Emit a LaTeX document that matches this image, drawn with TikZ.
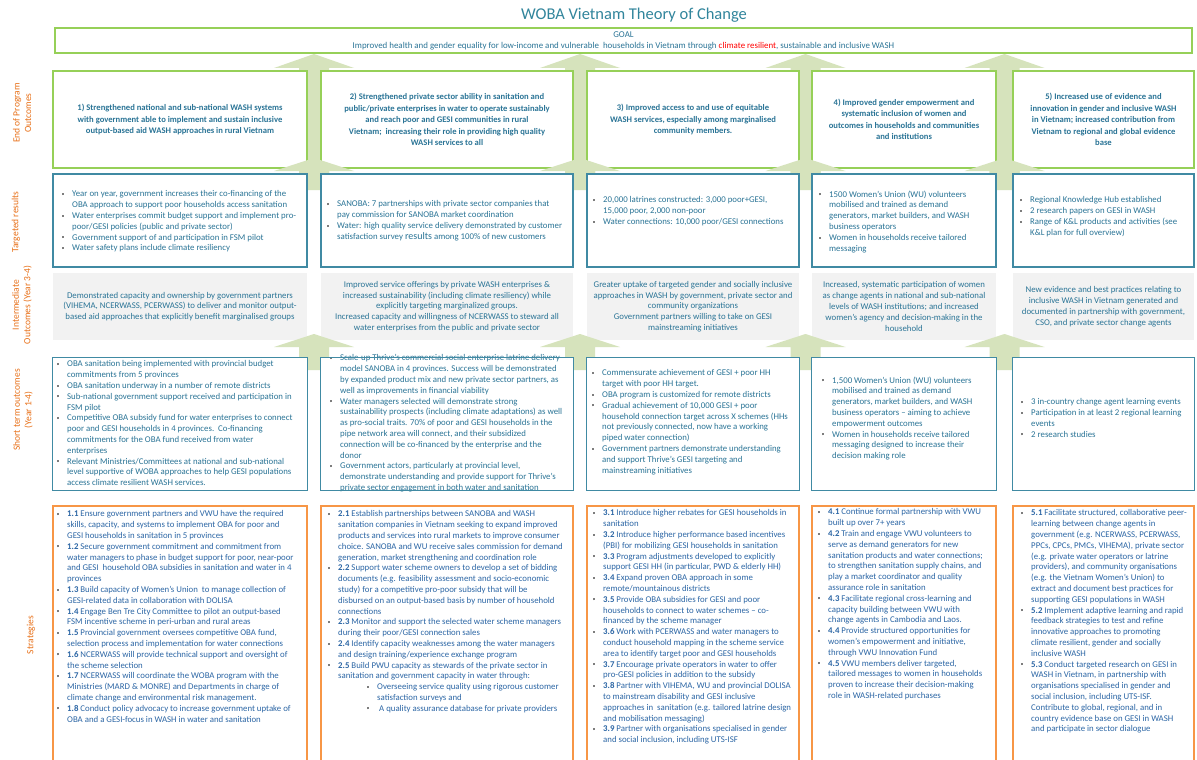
\documentclass[tikz,border=0pt]{standalone}
\usepackage{fontspec}
\setmainfont{Carlito}
\definecolor{tealline}{RGB}{64,138,163}
\definecolor{greenline}{RGB}{150,208,88}
\definecolor{orangeline}{RGB}{247,150,70}
\definecolor{arrowgreen}{RGB}{214,227,188}
\definecolor{greybox}{RGB}{242,242,242}
\definecolor{bodytext}{RGB}{42,116,150}
\definecolor{stratext}{RGB}{44,102,165}
\definecolor{labelorange}{RGB}{232,112,24}
\definecolor{titleteal}{RGB}{49,133,156}
\definecolor{bulletgrey}{RGB}{125,125,125}
% hanging bullet and continuation indent for the lists
\newcommand{\bu}{\makebox[10pt][l]{\raisebox{1.8pt}{\textcolor{bulletgrey}{\rule{2pt}{2pt}}}}}
\newcommand{\ct}{\hspace*{10pt}}
% broad up-arrow: centre x, tip y, head base y, tail y
\newcommand{\upblock}[4]{\fill[arrowgreen] ({#1-15},#4) -- ({#1-15},#3) -- ({#1-40},#3) -- (#1,#2) -- ({#1+40},#3) -- ({#1+15},#3) -- ({#1+15},#4) -- cycle;}
\begin{document}
\begin{tikzpicture}[x=1pt,y=-1pt,
  titlestyle/.style={text=titleteal, font=\fontsize{16.5}{19}\selectfont, inner sep=0},
  goalbox/.style={draw=greenline, line width=1.5pt, fill=white, align=center, text=bodytext, font=\fontsize{8.9}{11}\selectfont, inner sep=0},
  eop/.style={draw=greenline, line width=1.3pt, fill=white, align=center, text=bodytext, font=\bfseries\fontsize{8.6}{11.5}\selectfont, inner sep=0},
  resbox/.style={draw=tealline, line width=1.3pt, fill=white, inner sep=0},
  stfill/.style={fill=white, inner sep=0},
  stborder/.style={draw=tealline, line width=1.3pt},
  interbox/.style={fill=greybox, align=center, text=bodytext, font=\fontsize{8.8}{10.8}\selectfont, inner sep=0},
  stratbox/.style={draw=orangeline, line width=1.3pt, fill=white, inner sep=0},
  bullets/.style={anchor=north west, align=left, inner sep=0, text=bodytext, font=\fontsize{8.8}{10.8}\selectfont},
  stratlist/.style={bullets, text=stratext},
  rowlabel/.style={rotate=90, align=center, text=labelorange, font=\fontsize{9.5}{11.5}\selectfont, inner sep=0}
]
\useasboundingbox (0,0) rectangle (1197,760);
\fill[white] (0,0) rectangle (1197,760);

\node[titlestyle] (title) at (634,15) {WOBA Vietnam Theory of Change};

% arrows from the end-of-program outcomes to the goal
\upblock{314}{54}{68}{175}
\upblock{580}{54}{68}{175}
\upblock{805.5}{54}{68}{175}
\upblock{1004.5}{54}{68}{175}

\node[goalbox, minimum width=1137, minimum height=25] (goal) at (623.5,40.5)
  {GOAL\\Improved health and gender equality for low-income and vulnerable\ \ households in Vietnam through \textcolor{red}{climate resilient}, sustainable and inclusive WASH};

% end of program outcomes
\node[eop, minimum width=254, minimum height=97] (e1) at (180,119.5)
  {1) Strengthened national and sub-national WASH systems\\with government able to implement and sustain inclusive\\output-based aid WASH approaches in rural Vietnam};
\node[eop, minimum width=252, minimum height=97] (e2) at (447,119.5)
  {2) Strengthened private sector ability in sanitation and\\public/private enterprises in water to operate sustainably\\and reach poor and GESI communities in rural\\Vietnam;\ \ increasing their role in providing high quality\\WASH services to all};
\node[eop, minimum width=212, minimum height=97] (e3) at (693,119.5)
  {3) Improved access to and use of equitable\\WASH services, especially among marginalised\\community members.};
\node[eop, minimum width=184, minimum height=97] (e4) at (904,119.5)
  {4) Improved gender empowerment and\\systematic inclusion of women and\\outcomes in households and communities\\and institutions};
\node[eop, minimum width=181, minimum height=97] (e5) at (1103.5,119.5)
  {5) Increased use of evidence and\\innovation in gender and inclusive WASH\\in Vietnam; increased contribution from\\Vietnam to regional and global evidence\\base};

% arrows from the targeted results
\upblock{314}{158}{171}{190}
\upblock{580}{158}{171}{190}
\upblock{805.5}{158}{171}{190}
\upblock{1004.5}{158}{171}{190}

% targeted results
\node[resbox, minimum width=254, minimum height=93] (r1) at (180,220.5) {};
\node[resbox, minimum width=252, minimum height=93] (r2) at (447,220.5) {};
\node[resbox, minimum width=212, minimum height=93] (r3) at (693,220.5) {};
\node[resbox, minimum width=184, minimum height=93] (r4) at (904,220.5) {};
\node[resbox, minimum width=181, minimum height=93] (r5) at (1103.5,220.5) {};
\node[bullets] (r1t) at (62,190.5) {%
\bu Year on year, government increases their co-financing of the\\
\ct OBA approach to support poor households access sanitation\\
\bu Water enterprises commit budget support and implement pro-\\
\ct poor/GESI policies (public and private sector)\\
\bu Government support of and participation in FSM pilot\\
\bu Water safety plans include climate resiliency};
\node[bullets] (r2t) at (327,200.5) {%
\bu SANOBA: 7 partnerships with private sector companies that\\
\ct pay commission for SANOBA market coordination\\
\bu Water: high quality service delivery demonstrated by customer\\
\ct satisfaction survey {\fontsize{10}{10.8}\selectfont results} among 100\% of new customers};
\node[bullets] (r3t) at (593,196.5) {%
\bu 20,000 latrines constructed: 3,000 poor+GESI,\\
\ct 15,000 poor, 2,000 non-poor\\
\bu Water connections: 10,000 poor/GESI connections};
\node[bullets] (r4t) at (819,190.5) {%
\bu 1500 Women’s Union (WU) volunteers\\
\ct mobilised and trained as demand\\
\ct generators, market builders, and WASH\\
\ct business operators\\
\bu Women in households receive tailored\\
\ct messaging};
\node[bullets] (r5t) at (1020,196.5) {%
\bu Regional Knowledge Hub established\\
\bu 2 research papers on GESI in WASH\\
\bu Range of K\&L products and activities (see\\
\ct K\&L plan for full overview)};

% intermediate outcomes
\node[interbox, minimum width=254, minimum height=67] (i1) at (180,306.5)
  {Demonstrated capacity and ownership by government partners\\(VIHEMA, NCERWASS, PCERWASS) to deliver and monitor output-\\based aid approaches that explicitly benefit marginalised groups};
\node[interbox, minimum width=252, minimum height=67] (i2) at (447,306.5)
  {Improved service offerings by private WASH enterprises \&\\increased sustainability (including climate resiliency) while\\explicitly targeting marginalized groups.\\Increased capacity and willingness of NCERWASS to steward all\\water enterprises from the public and private sector};
\node[interbox, minimum width=212, minimum height=67] (i3) at (693,306.5)
  {Greater uptake of targeted gender and socially inclusive\\approaches in WASH by government, private sector and\\community organizations\\Government partners willing to take on GESI\\mainstreaming initiatives};
\node[interbox, minimum width=184, minimum height=67] (i4) at (904,306.5)
  {Increased, systematic participation of women\\as change agents in national and sub-national\\levels of WASH institutions; and increased\\women’s agency and decision-making in the\\household};
\node[interbox, minimum width=181, minimum height=67] (i5) at (1103.5,306.5)
  {New evidence and best practices relating to\\inclusive WASH in Vietnam generated and\\documented in partnership with government,\\CSO, and private sector change agents};

% arrows from the short term outcomes
\upblock{314}{334}{347}{370}
\upblock{580}{334}{347}{370}
\upblock{805.5}{334}{347}{370}
\upblock{1004.5}{334}{347}{370}

% short term outcomes
\node[stfill, minimum width=254, minimum height=132] (s1) at (180,424) {};
\node[stfill, minimum width=252, minimum height=132] (s2) at (447,424) {};
\node[stfill, minimum width=212, minimum height=132] (s3) at (693,424) {};
\node[stfill, minimum width=184, minimum height=132] (s4) at (904,424) {};
\node[stfill, minimum width=181, minimum height=132] (s5) at (1103.5,424) {};
\node[bullets] (s1t) at (57,360.5) {%
\bu OBA sanitation being implemented with provincial budget\\
\ct commitments from 5 provinces\\
\bu OBA sanitation underway in a number of remote districts\\
\bu Sub-national government support received and participation in\\
\ct FSM pilot\\
\bu Competitive OBA subsidy fund for water enterprises to connect\\
\ct poor and GESI households in 4 provinces.\ \ Co-financing\\
\ct commitments for the OBA fund received from water\\
\ct enterprises\\
\bu Relevant Ministries/Committees at national and sub-national\\
\ct level supportive of WOBA approaches to help GESI populations\\
\ct access climate resilient WASH services.};
\node[bullets] (s2t) at (330,354.5) {%
\bu Scale-up Thrive’s commercial social enterprise latrine delivery\\
\ct model SANOBA in 4 provinces. Success will be demonstrated\\
\ct by expanded product mix and new private sector partners, as\\
\ct well as improvements in financial viability\\
\bu Water managers selected will demonstrate strong\\
\ct sustainability prospects (including climate adaptations) as well\\
\ct as pro-social traits. 70\% of poor and GESI households in the\\
\ct pipe network area will connect, and their subsidized\\
\ct connection will be co-financed by the enterprise and the\\
\ct donor\\
\bu Government actors, particularly at provincial level,\\
\ct demonstrate understanding and provide support for Thrive’s\\
\ct private sector engagement in both water and sanitation};
\node[bullets] (s3t) at (592,369.5) {%
\bu Commensurate achievement of GESI + poor HH\\
\ct target with poor HH target.\\
\bu OBA program is customized for remote districts\\
\bu Gradual achievement of 10,000 GESI + poor\\
\ct household connection target across X schemes (HHs\\
\ct not previously connected, now have a working\\
\ct piped water connection)\\
\bu Government partners demonstrate understanding\\
\ct and support Thrive’s GESI targeting and\\
\ct mainstreaming initiatives};
\node[bullets] (s4t) at (822,376.5) {%
\bu 1,500 Women’s Union (WU) volunteers\\
\ct mobilised and trained as demand\\
\ct generators, market builders, and WASH\\
\ct business operators – aiming to achieve\\
\ct empowerment outcomes\\
\bu Women in households receive tailored\\
\ct messaging designed to increase their\\
\ct decision making role};
\node[bullets] (s5t) at (1021,398.5) {%
\bu 3 in-country change agent learning events\\
\bu Participation in at least 2 regional learning\\
\ct events\\
\bu 2 research studies};
\foreach \b in {s1,s2,s3,s4,s5}
  \draw[stborder] (\b.north west) rectangle (\b.south east);

% strategies
\node[stratbox, minimum width=254, minimum height=264] (g1) at (180,638) {};
\node[stratbox, minimum width=252, minimum height=264] (g2) at (447,638) {};
\node[stratbox, minimum width=212, minimum height=264] (g3) at (693,638) {};
\node[stratbox, minimum width=184, minimum height=264] (g4) at (904,638) {};
\node[stratbox, minimum width=181, minimum height=264] (g5) at (1103.5,638) {};
\node[stratlist] (g1t) at (57,510.5) {%
\bu \textbf{1.1} Ensure government partners and VWU have the required\\
\ct skills, capacity, and systems to implement OBA for poor and\\
\ct GESI households in sanitation in 5 provinces\\
\bu \textbf{1.2} Secure government commitment and commitment from\\
\ct water managers to phase in budget support for poor, near-poor\\
\ct and GESI\ \ household OBA subsidies in sanitation and water in 4\\
\ct provinces\\
\bu \textbf{1.3} Build capacity of Women’s Union\ \ to manage collection of\\
\ct GESI-related data in collaboration with DOLISA\\
\bu \textbf{1.4} Engage Ben Tre City Committee to pilot an output-based\\
\ct FSM incentive scheme in peri-urban and rural areas\\
\bu \textbf{1.5} Provincial government oversees competitive OBA fund,\\
\ct selection process and implementation for water connections\\
\bu \textbf{1.6} NCERWASS will provide technical support and oversight of\\
\ct the scheme selection\\
\bu \textbf{1.7} NCERWASS will coordinate the WOBA program with the\\
\ct Ministries (MARD \& MONRE) and Departments in charge of\\
\ct climate change and environmental risk management.\\
\bu \textbf{1.8} Conduct policy advocacy to increase government uptake of\\
\ct OBA and a GESI-focus in WASH in water and sanitation};
\node[stratlist] (g2t) at (328,510.5) {%
\bu \textbf{2.1} Establish partnerships between SANOBA and WASH\\
\ct sanitation companies in Vietnam seeking to expand improved\\
\ct products and services into rural markets to improve consumer\\
\ct choice. SANOBA and WU receive sales commission for demand\\
\ct generation, market strengthening and coordination role\\
\bu \textbf{2.2} Support water scheme owners to develop a set of bidding\\
\ct documents (e.g. feasibility assessment and socio-economic\\
\ct study) for a competitive pro-poor subsidy that will be\\
\ct disbursed on an output-based basis by number of household\\
\ct connections\\
\bu \textbf{2.3} Monitor and support the selected water scheme managers\\
\ct during their poor/GESI connection sales\\
\bu \textbf{2.4} Identify capacity weaknesses among the water managers\\
\ct and design training/experience exchange program\\
\bu \textbf{2.5} Build PWU capacity as stewards of the private sector in\\
\ct sanitation and government capacity in water through:\\
\hspace*{39pt}\bu Overseeing service quality using rigorous customer\\
\hspace*{39pt}\ct satisfaction surveys and\\
\hspace*{39pt}\bu \ A quality assurance database for private providers};
\node[stratlist] (g3t) at (593,509.5) {%
\bu \textbf{3.1} Introduce higher rebates for GESI households in\\
\ct sanitation\\
\bu \textbf{3.2} Introduce higher performance based incentives\\
\ct (PBI) for mobilizing GESI households in sanitation\\
\bu \textbf{3.3} Program adjustments developed to explicitly\\
\ct support GESI HH (in particular, PWD \& elderly HH)\\
\bu \textbf{3.4} Expand proven OBA approach in some\\
\ct remote/mountainous districts\\
\bu \textbf{3.5} Provide OBA subsidies for GESI and poor\\
\ct households to connect to water schemes – co-\\
\ct financed by the scheme manager\\
\bu \textbf{3.6} Work with PCERWASS and water managers to\\
\ct conduct household mapping in the scheme service\\
\ct area to identify target poor and GESI households\\
\bu \textbf{3.7} Encourage private operators in water to offer\\
\ct pro-GESI policies in addition to the subsidy\\
\bu \textbf{3.8} Partner with VIHEMA, WU and provincial DOLISA\\
\ct to mainstream disability and GESI inclusive\\
\ct approaches in\ \ sanitation (e.g. tailored latrine design\\
\ct and mobilisation messaging)\\
\bu \textbf{3.9} Partner with organisations specialised in gender\\
\ct and social inclusion, including UTS-ISF};
\node[stratlist] (g4t) at (818,508.5) {%
\bu \textbf{4.1} Continue formal partnership with VWU\\
\ct built up over 7+ years\\
\bu \textbf{4.2} Train and engage VWU volunteers to\\
\ct serve as demand generators for new\\
\ct sanitation products and water connections;\\
\ct to strengthen sanitation supply chains, and\\
\ct play a market coordinator and quality\\
\ct assurance role in sanitation\\
\bu \textbf{4.3} Facilitate regional cross-learning and\\
\ct capacity building between VWU with\\
\ct change agents in Cambodia and Laos.\\
\bu \textbf{4.4} Provide structured opportunities for\\
\ct women’s empowerment and initiative,\\
\ct through VWU Innovation Fund\\
\bu \textbf{4.5} VWU members deliver targeted,\\
\ct tailored messages to women in households\\
\ct proven to increase their decision-making\\
\ct role in WASH-related purchases};
\node[stratlist] (g5t) at (1021,509.5) {%
\bu \textbf{5.1} Facilitate structured, collaborative peer-\\
\ct learning between change agents in\\
\ct government (e.g. NCERWASS, PCERWASS,\\
\ct PPCs, CPCs, PMCs, VIHEMA), private sector\\
\ct (e.g. private water operators or latrine\\
\ct providers), and community organisations\\
\ct (e.g. the Vietnam Women’s Union) to\\
\ct extract and document best practices for\\
\ct supporting GESI populations in WASH\\
\bu \textbf{5.2} Implement adaptive learning and rapid\\
\ct feedback strategies to test and refine\\
\ct innovative approaches to promoting\\
\ct climate resilient, gender and socially\\
\ct inclusive WASH\\
\bu \textbf{5.3} Conduct targeted research on GESI in\\
\ct WASH in Vietnam, in partnership with\\
\ct organisations specialised in gender and\\
\ct social inclusion, including UTS-ISF.\\
\ct Contribute to global, regional, and in\\
\ct country evidence base on GESI in WASH\\
\ct and participate in sector dialogue};

% row labels
\node[rowlabel] (lab1) at (22,113) {End of Program\\Outcomes};
\node[rowlabel] (lab2) at (16,222) {Targeted results};
\node[rowlabel] (lab3) at (22,305) {Intermediate\\Outcomes (Year 3-4)};
\node[rowlabel] (lab4) at (23,410) {Short term outcomes\\(Year 1-4)};
\node[rowlabel] (lab5) at (31,635) {Strategies};
\end{tikzpicture}
\end{document}
